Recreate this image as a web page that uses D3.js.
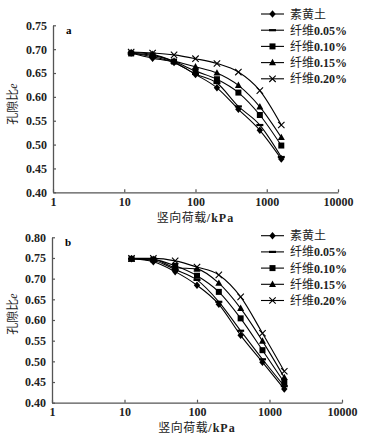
<!DOCTYPE html>
<html><head><meta charset="utf-8">
<script src="https://cdn.jsdelivr.net/npm/d3@7"></script>
<style>
body{margin:0;background:#fff;}
svg{display:block;}
.tick text{font-family:"Liberation Serif","Times New Roman",serif;font-weight:bold;font-size:12px;fill:#222;}
</style></head><body>
<svg id="c" width="367" height="439"></svg>
<script>
const loads = [12.5, 25, 50, 100, 200, 400, 800, 1600];
const seriesNames = ["素黄土", "纤维0.05%", "纤维0.10%", "纤维0.15%", "纤维0.20%"];
const markerTypes = ["diamond", "dash", "square", "triangle", "cross"];
const xTicks = [1, 10, 100, 1000, 10000];
const yTicksA = [0.40, 0.45, 0.50, 0.55, 0.60, 0.65, 0.70, 0.75];
const yTicksB = [0.40, 0.45, 0.50, 0.55, 0.60, 0.65, 0.70, 0.75, 0.80];
const panelA = [
  [0.692, 0.681, 0.672, 0.647, 0.619, 0.574, 0.530, 0.470],
  [0.692, 0.684, 0.672, 0.648, 0.629, 0.580, 0.541, 0.474],
  [0.691, 0.687, 0.674, 0.654, 0.637, 0.609, 0.562, 0.498],
  [0.693, 0.689, 0.675, 0.663, 0.650, 0.624, 0.579, 0.515],
  [0.694, 0.692, 0.688, 0.680, 0.670, 0.652, 0.613, 0.541]
];
const panelB = [
  [0.748, 0.741, 0.717, 0.684, 0.638, 0.563, 0.498, 0.433],
  [0.748, 0.744, 0.722, 0.697, 0.644, 0.574, 0.505, 0.440],
  [0.748, 0.746, 0.731, 0.707, 0.668, 0.604, 0.527, 0.449],
  [0.748, 0.747, 0.727, 0.723, 0.689, 0.628, 0.549, 0.461],
  [0.749, 0.749, 0.743, 0.728, 0.709, 0.656, 0.568, 0.476]
];
const xTitleCn = "竖向荷载";
const xTitleUnit = "/kPa";
const yTitle = "孔隙比";

const svg = d3.select("#c");
const axisCol = "#555";

function marker(g, type, x, y) {
  const s = 3.2;
  if (type === "diamond") {
    g.append("path").attr("d", `M${x},${y-s-0.6}L${x+s},${y}L${x},${y+s+0.6}L${x-s},${y}Z`).attr("fill", "#000");
  } else if (type === "square") {
    g.append("rect").attr("x", x-3).attr("y", y-3).attr("width", 6).attr("height", 6).attr("fill", "#000");
  } else if (type === "triangle") {
    g.append("path").attr("d", `M${x},${y-3.8}L${x+3.5},${y+2.6}L${x-3.5},${y+2.6}Z`).attr("fill", "#000");
  } else if (type === "cross") {
    g.append("path").attr("d", `M${x-3.2},${y-3.2}L${x+3.2},${y+3.2}M${x-3.2},${y+3.2}L${x+3.2},${y-3.2}`).attr("stroke", "#000").attr("stroke-width", 1.1);
  } else if (type === "dash") {
    g.append("path").attr("d", `M${x-3.5},${y}L${x+3.5},${y}`).attr("stroke", "#000").attr("stroke-width", 2.2);
  }
}

function panel(cfg) {
  const x = d3.scaleLog().domain([1, 10000]).range([cfg.x0, cfg.x1]);
  const y = d3.scaleLinear().domain([0.40, cfg.ymax]).range([cfg.y0, cfg.y1]);
  const g = svg.append("g");
  const xa = g.append("g").attr("transform", `translate(0,${cfg.y0})`)
    .call(d3.axisBottom(x).tickValues(xTicks).tickFormat(d3.format("d")).tickSizeInner(-3).tickSizeOuter(0).tickPadding(5));
  const ya = g.append("g").attr("transform", `translate(${cfg.x0},0)`)
    .call(d3.axisLeft(y).tickValues(cfg.yTicks).tickFormat(d3.format(".2f")).tickSizeInner(-3).tickSizeOuter(0).tickPadding(6));
  [xa, ya].forEach(a => { a.select(".domain").attr("stroke", axisCol).attr("stroke-width", 1.3); a.selectAll(".tick line").attr("stroke", axisCol).attr("stroke-width", 1.2); });
  g.append("text").attr("x", cfg.x0 + 13).attr("y", y(cfg.ymax) + 9).text(cfg.label)
    .attr("font-family", "Liberation Serif, serif").attr("font-weight", "bold").attr("font-size", 11);
  const xt = g.append("text").attr("x", x(100)).attr("y", cfg.y0 + 29.5).attr("text-anchor", "middle")
    .attr("font-size", 12).attr("fill", "#222");
  xt.append("tspan").text(xTitleCn).attr("font-family", "Noto Sans CJK SC, sans-serif").attr("letter-spacing", 0.5);
  xt.append("tspan").text(xTitleUnit).attr("font-family", "Liberation Serif, serif").attr("font-weight", "bold").attr("letter-spacing", 1);
  const yt = g.append("text").attr("transform", `translate(17,${cfg.ytc}) rotate(-90)`).attr("text-anchor", "middle")
    .attr("font-family", "Noto Sans CJK SC, sans-serif").attr("font-size", 12).attr("fill", "#222");
  yt.append("tspan").text(yTitle);
  yt.append("tspan").text("e").attr("font-family", "Liberation Serif, serif").attr("font-style", "italic");
  const line = d3.line().x((d, i) => x(loads[i])).y(d => y(d)).curve(d3.curveMonotoneX);
  cfg.data.forEach((vals, si) => {
    g.append("path").attr("d", line(vals)).attr("fill", "none").attr("stroke", "#000").attr("stroke-width", 1.1);
    vals.forEach((v, i) => marker(g, markerTypes[si], x(loads[i]), y(v)));
  });
  seriesNames.forEach((n, i) => {
    const ly = cfg.ly + i * 16.2;
    g.append("line").attr("x1", 261).attr("x2", 284).attr("y1", ly).attr("y2", ly).attr("stroke", "#000").attr("stroke-width", 1.1);
    marker(g, markerTypes[i], 272.5, ly);
    g.append("text").attr("x", 290).attr("y", ly + 4.5).attr("font-size", 12).attr("fill", "#222")
      .attr("font-family", "Noto Sans CJK SC, sans-serif")
      .selectAll("tspan").data(n.match(/[^0-9.%]+|[0-9.%]+/g)).join("tspan")
      .attr("font-family", d => /[0-9]/.test(d) ? "Liberation Serif, serif" : "Noto Sans CJK SC, sans-serif")
      .attr("font-weight", d => /[0-9]/.test(d) ? "bold" : "normal")
      .text(d => d);
  });
}

panel({x0: 53, x1: 338, y0: 192.3, y1: 25.3, ymax: 0.75, yTicks: yTicksA, data: panelA, label: "a", ly: 14, ytc: 104});
panel({x0: 52, x1: 342, y0: 402.7, y1: 237.3, ymax: 0.80, yTicks: yTicksB, data: panelB, label: "b", ly: 235.7, ytc: 314});
</script>
</body></html>
